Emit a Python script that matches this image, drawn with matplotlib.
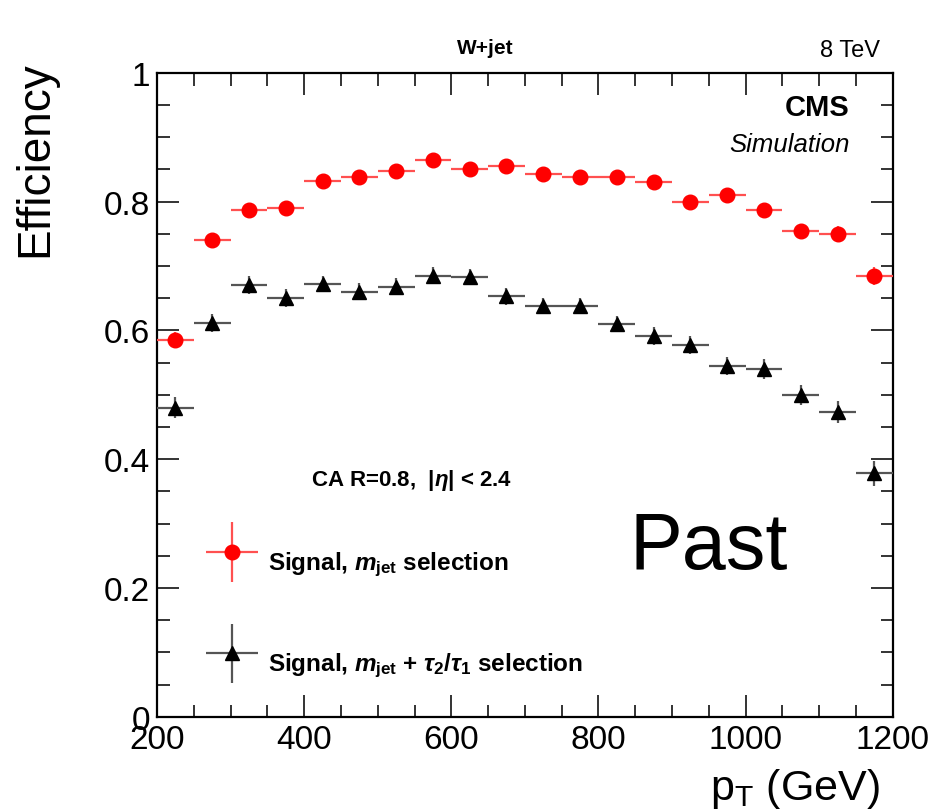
import numpy as np
import matplotlib
matplotlib.use("Agg")
import matplotlib.pyplot as plt
from matplotlib.ticker import MultipleLocator
from matplotlib.legend_handler import HandlerErrorbar

plt.rcParams['font.family'] = ['Liberation Sans', 'DejaVu Sans']
plt.rcParams['mathtext.fontset'] = 'custom'
plt.rcParams['mathtext.rm'] = 'Liberation Sans:bold'
plt.rcParams['mathtext.it'] = 'Liberation Sans:bold:italic'
plt.rcParams['mathtext.bf'] = 'Liberation Sans:bold'

# ---- data ----
pt_centers = [225, 275, 325, 375, 425, 475, 525, 575, 625, 675,
              725, 775, 825, 875, 925, 975, 1025, 1075, 1125, 1175]
bin_half_width = 25
eff_mjet = [0.585, 0.740, 0.787, 0.790, 0.832, 0.838, 0.847, 0.865, 0.850, 0.855,
            0.843, 0.838, 0.838, 0.830, 0.800, 0.810, 0.787, 0.755, 0.750, 0.685]
err_mjet = [0.012, 0.010, 0.010, 0.010, 0.009, 0.009, 0.009, 0.009, 0.009, 0.009,
            0.009, 0.009, 0.009, 0.010, 0.010, 0.010, 0.010, 0.011, 0.012, 0.014]
eff_tau = [0.480, 0.612, 0.670, 0.650, 0.672, 0.660, 0.668, 0.685, 0.683, 0.653,
           0.638, 0.638, 0.610, 0.592, 0.577, 0.545, 0.540, 0.500, 0.473, 0.378]
err_tau = [0.016, 0.014, 0.014, 0.014, 0.013, 0.013, 0.013, 0.013, 0.013, 0.013,
           0.013, 0.013, 0.013, 0.014, 0.014, 0.014, 0.015, 0.016, 0.017, 0.020]
label_mjet = r"Signal, $m_{\mathrm{jet}}$ selection"
label_tau = r"Signal, $m_{\mathrm{jet}}$ + $\tau_{2}/\tau_{1}$ selection"
x_ticks = [200, 400, 600, 800, 1000, 1200]
x_ticklabels = ['200', '400', '600', '800', '1000', '1200']
y_ticks = [0, 0.2, 0.4, 0.6, 0.8, 1.0]
y_ticklabels = ['0', '0.2', '0.4', '0.6', '0.8', '1']

fig = plt.figure(figsize=(9.29, 8.12), dpi=100)
ax = fig.add_axes([0.169, 0.116, 0.792, 0.793])

x = np.array(pt_centers)
e1 = ax.errorbar(x, eff_mjet, xerr=bin_half_width, yerr=err_mjet, fmt='o',
                 color='#ff0000', ms=10.5, mec='#ff0000', ecolor='#ff5050',
                 elinewidth=1.6, capsize=0, label=label_mjet, zorder=3)
e2 = ax.errorbar(x, eff_tau, xerr=bin_half_width, yerr=err_tau, fmt='^',
                 color='black', ms=10, ecolor='#555555',
                 elinewidth=1.6, capsize=0, label=label_tau, zorder=3)

ax.set_xlim(200, 1200)
ax.set_ylim(0, 1)
ax.xaxis.set_minor_locator(MultipleLocator(50))
ax.yaxis.set_minor_locator(MultipleLocator(0.05))
ax.set_xticks(x_ticks)
ax.set_xticklabels(x_ticklabels)
ax.set_yticks(y_ticks)
ax.set_yticklabels(y_ticklabels)
ax.tick_params(which='both', direction='in', top=True, right=True, width=1.4, color='#333333')
ax.tick_params(which='major', length=16, labelsize=24, pad=5)
ax.tick_params(which='minor', length=9)
for sp in ax.spines.values():
    sp.set_linewidth(1.6)

fig.text(0.038, 0.924, 'Efficiency', rotation=90, ha='center', va='top', fontsize=33)
fig.text(0.947, 0.001, r'p$_{\mathregular{T}}$ (GeV)', ha='right', va='bottom', fontsize=31)

fig.text(0.522, 0.928, 'W+jet', ha='center', va='bottom', fontsize=15, fontweight='bold')
fig.text(0.947, 0.924, '8 TeV', ha='right', va='bottom', fontsize=17)
ax.text(0.9416, 0.947, 'CMS', transform=ax.transAxes, ha='right', va='center',
        fontsize=21, fontweight='bold')
ax.text(0.9416, 0.889, 'Simulation', transform=ax.transAxes, ha='right', va='center',
        fontsize=18.5, style='italic')
ax.text(0.346, 0.369, r'CA R=0.8,  |$\eta$| < 2.4', transform=ax.transAxes,
        ha='center', va='center', fontsize=16, fontweight='bold')
ax.text(0.75, 0.263, 'Past', transform=ax.transAxes, ha='center', va='center',
        fontsize=57)

leg = ax.legend(handles=[e1, e2], loc='upper left', bbox_to_anchor=(0.049, 0.297),
                frameon=False, prop={'weight': 'bold', 'size': 17.5},
                handlelength=2.4, handleheight=3.0, labelspacing=1.97,
                handletextpad=0.3, borderpad=0.4, borderaxespad=0.0,
                handler_map={type(e1): HandlerErrorbar(xerr_size=1.07, yerr_size=1.23)})

fig.savefig('out.png', dpi=100)
